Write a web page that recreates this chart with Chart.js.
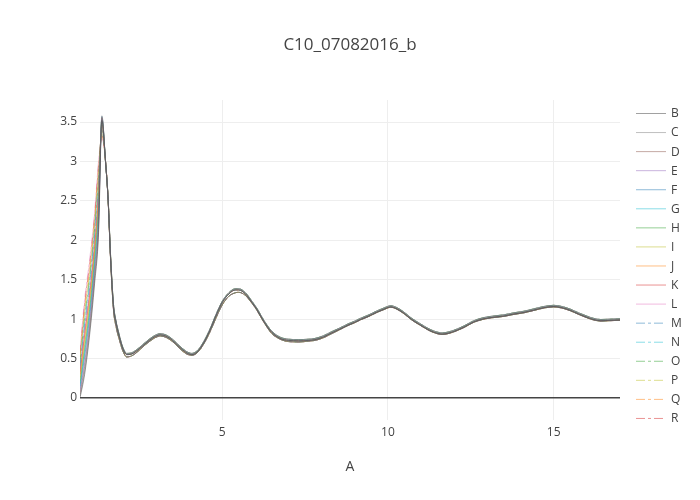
<!DOCTYPE html>
<html>
<head>
<meta charset="utf-8">
<script src="https://cdn.jsdelivr.net/npm/chart.js@4/dist/chart.umd.min.js"></script>
<style>
  html, body { margin: 0; padding: 0; background: #fff; }
  #wrap { width: 700px; height: 500px; }
</style>
</head>
<body>
<div id="wrap"><canvas id="chart" width="700" height="500"></canvas></div>
<script>
// chart text
const chartTitle = 'C10_07082016_b';
const xTitle = 'A';
const xTicks = [5, 10, 15];
const yTicks = [0, 0.5, 1, 1.5, 2, 2.5, 3, 3.5];

// rising edge of the first peak, each series has its own values
const headX = [0.71, 0.85, 1.0, 1.15, 1.27, 1.37];
const B = [0.00, 0.30, 0.80, 1.45, 2.10, 3.52];
const C = [0.02, 0.34, 0.84, 1.50, 2.14, 3.58];
const D = [0.05, 0.40, 0.90, 1.55, 2.20, 3.56];
const E = [0.08, 0.45, 0.95, 1.60, 2.25, 3.55];
const F = [0.12, 0.52, 1.02, 1.66, 2.30, 3.57];
const G = [0.15, 0.57, 1.07, 1.70, 2.36, 3.54];
const H = [0.18, 0.62, 1.12, 1.76, 2.42, 3.52];
const I = [0.22, 0.68, 1.18, 1.82, 2.47, 3.55];
const J = [0.26, 0.74, 1.23, 1.87, 2.52, 3.50];
const K = [0.30, 0.80, 1.30, 1.92, 2.58, 3.48];
const L = [0.33, 0.85, 1.35, 1.97, 2.63, 3.45];
const M = [0.37, 0.90, 1.40, 2.03, 2.68, 3.47];
const N = [0.40, 0.96, 1.45, 2.08, 2.74, 3.42];
const O = [0.44, 1.02, 1.52, 2.14, 2.79, 3.40];
const P = [0.48, 1.08, 1.57, 2.19, 2.84, 3.38];
const Q = [0.52, 1.13, 1.63, 2.24, 2.89, 3.35];
const R = [0.56, 1.19, 1.69, 2.30, 2.95, 3.33];
const S = [0.60, 1.25, 1.75, 2.35, 3.00, 3.30];

// everything after the first peak
const tailX = [1.48, 1.56, 1.63, 1.72, 1.8, 1.87, 2.0, 2.12, 2.25, 2.4,
  2.6, 2.8, 3.0, 3.13, 3.3, 3.5, 3.7, 3.9, 4.08, 4.25,
  4.4, 4.6, 4.84, 5.0, 5.2, 5.4, 5.5, 5.7, 5.9, 6.05,
  6.2, 6.35, 6.5, 6.75, 7.0, 7.3, 7.6, 7.8, 8.06, 8.3,
  8.56, 8.8, 9.0, 9.17, 9.4, 9.67, 9.9, 10.08, 10.25, 10.48,
  10.7, 10.98, 11.2, 11.38, 11.64, 11.85, 12.09, 12.3, 12.59, 12.9,
  13.2, 13.5, 13.8, 14.1, 14.4, 14.7, 15.0, 15.25, 15.51, 15.75,
  16.02, 16.2, 16.42, 16.7, 17.0];
const tailA = [3.0, 2.5, 1.8, 1.16, 0.95, 0.82, 0.63, 0.55, 0.555, 0.59,
  0.66, 0.73, 0.785, 0.80, 0.785, 0.73, 0.65, 0.58, 0.55, 0.585,
  0.67, 0.83, 1.07, 1.21, 1.32, 1.37, 1.37, 1.32, 1.21, 1.12,
  1.01, 0.91, 0.83, 0.755, 0.73, 0.725, 0.73, 0.74, 0.775, 0.825,
  0.875, 0.925, 0.96, 0.995, 1.035, 1.09, 1.13, 1.155, 1.135, 1.075,
  1.0, 0.925, 0.87, 0.835, 0.81, 0.825, 0.86, 0.9, 0.965, 1.005,
  1.025, 1.04, 1.065, 1.085, 1.115, 1.145, 1.16, 1.145, 1.11, 1.065,
  1.02, 0.995, 0.98, 0.985, 0.99];
const tailB = [3.0, 2.5, 1.78, 1.12, 0.9, 0.78, 0.6, 0.52, 0.53, 0.57,
  0.645, 0.715, 0.77, 0.785, 0.77, 0.715, 0.635, 0.565, 0.54, 0.575,
  0.655, 0.81, 1.04, 1.18, 1.29, 1.335, 1.34, 1.3, 1.2, 1.11,
  1.0, 0.9, 0.815, 0.745, 0.715, 0.71, 0.72, 0.73, 0.765, 0.815,
  0.87, 0.92, 0.955, 0.99, 1.03, 1.085, 1.125, 1.15, 1.13, 1.07,
  0.995, 0.92, 0.865, 0.83, 0.805, 0.82, 0.855, 0.895, 0.96, 1.0,
  1.02, 1.035, 1.06, 1.08, 1.11, 1.14, 1.155, 1.14, 1.105, 1.06,
  1.015, 0.99, 0.975, 0.98, 0.985];
const tailC = [3.0, 2.52, 1.83, 1.19, 0.97, 0.84, 0.645, 0.565, 0.57, 0.605,
  0.675, 0.745, 0.8, 0.815, 0.8, 0.745, 0.665, 0.595, 0.565, 0.6,
  0.685, 0.845, 1.085, 1.225, 1.335, 1.385, 1.385, 1.335, 1.225, 1.135,
  1.025, 0.925, 0.845, 0.77, 0.745, 0.74, 0.745, 0.755, 0.79, 0.84,
  0.89, 0.94, 0.975, 1.01, 1.05, 1.105, 1.145, 1.17, 1.15, 1.09,
  1.015, 0.94, 0.885, 0.85, 0.825, 0.84, 0.875, 0.915, 0.98, 1.02,
  1.04, 1.055, 1.08, 1.1, 1.13, 1.16, 1.175, 1.16, 1.125, 1.08,
  1.035, 1.01, 0.995, 1.0, 1.005];

const seriesNames = ['B', 'C', 'D', 'E', 'F', 'G', 'H', 'I', 'J', 'K', 'L', 'M', 'N', 'O', 'P', 'Q', 'R', 'S'];
const seriesHeads = [B, C, D, E, F, G, H, I, J, K, L, M, N, O, P, Q, R, S];
const seriesTails = [tailA, tailC, tailB, tailA, tailC, tailB, tailA, tailC, tailB, tailA, tailC,
  tailB, tailA, tailC, tailB, tailA, tailB, tailB];
const seriesColors = [
  'rgba(68,68,68,0.5)', 'rgba(127,127,127,0.5)', 'rgba(140,86,75,0.5)', 'rgba(148,103,189,0.5)',
  'rgba(31,119,180,0.5)', 'rgba(23,190,207,0.5)', 'rgba(44,160,44,0.5)', 'rgba(188,189,34,0.5)',
  'rgba(255,127,14,0.5)', 'rgba(214,39,40,0.5)', 'rgba(227,119,194,0.5)',
  'rgba(31,119,180,0.5)', 'rgba(23,190,207,0.5)', 'rgba(44,160,44,0.5)', 'rgba(188,189,34,0.5)',
  'rgba(255,127,14,0.5)', 'rgba(214,39,40,0.5)', 'rgba(227,119,194,0.5)'
];
const dashDot = [9, 3, 3, 3];

const datasets = seriesNames.map((name, i) => {
  const solid = i < 11;
  const tail = seriesTails[i];
  const pts = headX.map((x, k) => ({ x, y: seriesHeads[i][k] }))
    .concat(tailX.map((x, k) => ({ x, y: tail[k] })));
  return {
    label: name,
    data: pts,
    borderColor: seriesColors[i],
    backgroundColor: seriesColors[i],
    borderWidth: 1,
    borderDash: solid ? [] : dashDot,
    pointRadius: 0,
    cubicInterpolationMode: 'monotone',
    fill: false,
  };
});

const font = '"Open Sans", "Noto Sans", sans-serif';

// title, axis title and a plotly-like legend clipped at the bottom
const decor = {
  id: 'decor',
  afterDraw(chart) {
    const ctx = chart.ctx;
    const area = chart.chartArea;
    ctx.save();
    ctx.fillStyle = '#444';
    ctx.textAlign = 'center';
    ctx.textBaseline = 'middle';
    ctx.font = '17px ' + font;
    ctx.fillText(chartTitle, 350, 45);
    ctx.font = '14px ' + font;
    ctx.fillText(xTitle, (area.left + area.right) / 2, 467);

    ctx.beginPath();
    ctx.rect(630, 100, 70, 322);
    ctx.clip();
    ctx.font = '12px ' + font;
    ctx.textAlign = 'left';
    chart.data.datasets.forEach((ds, i) => {
      const y = 113.5 + i * 19.06;
      ctx.strokeStyle = ds.borderColor;
      ctx.lineWidth = 1;
      ctx.setLineDash(ds.borderDash);
      ctx.beginPath();
      ctx.moveTo(636, y);
      ctx.lineTo(666, y);
      ctx.stroke();
      ctx.setLineDash([]);
      ctx.fillStyle = '#444';
      ctx.fillText(ds.label, 671, y + 0.5);
    });
    ctx.restore();
  }
};

new Chart(document.getElementById('chart'), {
  type: 'line',
  data: { datasets },
  options: {
    responsive: false,
    animation: false,
    layout: { padding: { top: 100, right: 80, bottom: 0, left: 0 } },
    plugins: {
      legend: { display: false },
      title: { display: false },
      tooltip: { enabled: false },
    },
    scales: {
      x: {
        type: 'linear',
        min: 0.71,
        max: 17.0,
        afterFit: s => { s.height = 80; },
        afterBuildTicks: s => { s.ticks = xTicks.map(v => ({ value: v })); },
        grid: { color: '#eee', drawTicks: false },
        border: { display: false },
        ticks: { color: '#444', font: { family: font, size: 12 }, padding: 5, maxRotation: 0, callback: v => String(v) },
      },
      y: {
        type: 'linear',
        min: -0.28,
        max: 3.78,
        afterFit: s => { s.width = 80; },
        afterBuildTicks: s => { s.ticks = yTicks.map(v => ({ value: v })); },
        grid: {
          color: c => (c.tick && c.tick.value === 0 ? '#444' : '#eee'),
          lineWidth: c => (c.tick && c.tick.value === 0 ? 1.5 : 1),
          drawTicks: false,
        },
        border: { display: false },
        ticks: { color: '#444', font: { family: font, size: 12 }, padding: 3, callback: v => String(v) },
      },
    },
  },
  plugins: [decor],
});
</script>
</body>
</html>
